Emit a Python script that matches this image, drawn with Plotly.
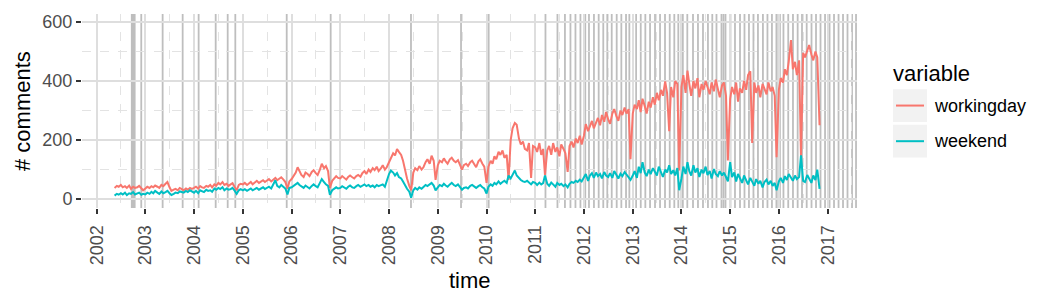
import pandas as pd
import plotly.graph_objects as go

# ---------------- data (semi-monthly) ----------------
start_date = "2002-05-15"

workingday = (
    # 2002 (from mid-May)
    [38, 45, 42, 48, 40, 44, 38, 46, 35, 42, 38, 40, 45, 36, 30]
    # 2003
    + [36, 42, 38, 44, 40, 46, 42, 38, 48, 44, 52, 58, 40, 28, 32, 35, 30, 38, 34, 30, 36, 32, 38, 35]
    # 2004
    + [38, 42, 36, 44, 40, 38, 45, 42, 48, 40, 50, 46, 55, 50, 58, 48, 52, 45, 50, 54, 40, 30, 48, 52]
    # 2005
    + [50, 55, 48, 52, 58, 50, 56, 62, 55, 60, 64, 58, 62, 68, 60, 66, 72, 64, 70, 74, 66, 58, 35, 60]
    # 2006
    + [68, 80, 90, 108, 95, 82, 75, 90, 85, 78, 92, 98, 88, 82, 100, 120, 105, 112, 95, 38, 62, 70, 78, 72]
    # 2007
    + [70, 78, 72, 66, 75, 80, 74, 70, 78, 82, 76, 88, 95, 85, 100, 92, 105, 98, 110, 95, 104, 115, 100, 108]
    # 2008
    + [125, 140, 155, 148, 170, 160, 150, 130, 95, 70, 45, 30, 90, 105, 98, 112, 100, 108, 125, 135, 120, 147, 130, 65]
    # 2009
    + [115, 130, 125, 138, 128, 120, 135, 140, 130, 125, 132, 118, 100, 115, 120, 112, 125, 130, 118, 108, 128, 135, 120, 110]
    # 2010
    + [55, 110, 130, 120, 145, 135, 160, 150, 165, 140, 150, 65, 200, 240, 258, 252, 205, 185, 195, 170, 165, 190, 72, 180]
    # 2011
    + [175, 160, 190, 150, 170, 82, 165, 180, 150, 190, 160, 175, 145, 185, 170, 155, 92, 180, 195, 175, 205, 190, 215, 185]
    # 2012
    + [215, 254, 230, 245, 265, 240, 258, 275, 250, 285, 262, 295, 270, 255, 290, 305, 280, 265, 300, 285, 310, 290, 305, 135]
    # 2013
    + [290, 320, 305, 335, 295, 340, 315, 290, 330, 310, 345, 320, 360, 335, 370, 350, 399, 360, 230, 380, 345, 400, 390, 97]
    # 2014
    + [380, 420, 360, 435, 390, 350, 400, 375, 410, 345, 390, 370, 400, 380, 355, 395, 365, 405, 370, 345, 385, 395, 350, 131]
    # 2015
    + [340, 380, 355, 395, 330, 375, 360, 400, 370, 420, 433, 190, 395, 360, 385, 345, 390, 370, 355, 395, 365, 380, 350, 142]
    # 2016 (to start of November)
    + [370, 410, 395, 440, 420, 466, 539, 440, 465, 420, 470, 142, 495, 480, 505, 522, 490, 470, 500, 480, 250]
)

weekend = (
    [12, 18, 15, 20, 16, 22, 14, 20, 18, 24, 16, 20, 22, 15, 18]
    + [16, 22, 18, 25, 20, 28, 22, 18, 26, 20, 24, 28, 20, 14, 18, 22, 20, 26, 24, 22, 28, 24, 30, 26]
    + [22, 28, 20, 30, 26, 24, 32, 28, 30, 25, 36, 32, 38, 34, 40, 30, 36, 32, 34, 38, 28, 18, 30, 34]
    + [30, 34, 28, 32, 36, 30, 34, 38, 32, 36, 40, 34, 38, 42, 36, 50, 64, 45, 40, 48, 42, 36, 16, 38]
    + [40, 45, 50, 55, 48, 42, 38, 46, 40, 36, 45, 50, 44, 40, 55, 68, 58, 50, 45, 15, 30, 35, 40, 36]
    + [38, 44, 40, 35, 42, 46, 40, 38, 44, 48, 42, 45, 50, 44, 48, 42, 46, 40, 48, 44, 46, 50, 42, 62]
    + [85, 97, 90, 80, 88, 75, 70, 60, 45, 35, 25, 5, 30, 38, 32, 40, 35, 42, 48, 44, 50, 55, 46, 30]
    + [40, 48, 44, 52, 46, 42, 50, 55, 48, 44, 50, 42, 32, 38, 40, 36, 45, 48, 42, 38, 44, 48, 40, 36]
    + [19, 42, 50, 45, 55, 50, 60, 52, 58, 62, 55, 80, 70, 85, 97, 80, 70, 65, 60, 58, 62, 55, 50, 58]
    + [55, 48, 56, 50, 54, 80, 52, 45, 56, 50, 42, 55, 48, 52, 44, 50, 40, 52, 58, 55, 62, 58, 66, 60]
    + [75, 85, 62, 80, 88, 72, 90, 78, 85, 70, 92, 80, 75, 88, 72, 95, 82, 70, 86, 78, 92, 84, 76, 65]
    + [80, 95, 72, 110, 88, 125, 90, 78, 100, 85, 105, 92, 80, 110, 88, 75, 100, 90, 115, 85, 98, 80, 105, 30]
    + [70, 110, 85, 125, 95, 80, 115, 90, 105, 75, 100, 88, 110, 82, 95, 70, 102, 85, 78, 95, 80, 90, 75, 60]
    + [125, 75, 90, 60, 85, 70, 55, 80, 65, 50, 72, 58, 45, 68, 52, 62, 40, 58, 66, 50, 62, 45, 55, 30]
    + [60, 72, 55, 78, 65, 85, 70, 62, 80, 68, 75, 148, 62, 58, 82, 70, 55, 80, 65, 100, 35]
)

# release markers (decimal years)
releases = [
    2002.72, 2002.74, 2002.76, 2002.78, 2002.915, 2003.354, 2003.765, 2004.093,
    2004.442, 2004.688, 2004.844, 2005.899, 2006.802, 2008.450, 2009.476, 2010.044,
    2011.210, 2011.456, 2011.610, 2011.723, 2011.826, 2011.928, 2012.027, 2012.103,
    2012.205, 2012.302, 2012.396, 2012.478, 2012.569, 2012.671, 2012.766, 2012.862,
    2012.93, 2013.069, 2013.164, 2013.258, 2013.355, 2013.457, 2013.560, 2013.662,
    2013.759, 2013.853, 2013.935, 2014.028, 2014.120, 2014.237, 2014.339, 2014.442,
    2014.544, 2014.633, 2014.719, 2014.822, 2014.863, 2014.904, 2015.006, 2015.099,
    2015.202, 2015.294, 2015.386, 2015.478, 2015.571, 2015.673, 2015.766, 2015.858,
    2015.950, 2015.991, 2016.022, 2016.094, 2016.192, 2016.289, 2016.385, 2016.474,
    2016.570, 2016.669, 2016.761, 2016.853, 2016.946, 2017.038, 2017.130, 2017.223,
    2017.315, 2017.407, 2017.500, 2017.582,
]

series_names = ["workingday", "weekend"]
series_colors = ["#F8766D", "#00BFC4"]
x_range_years = [2001.698, 2017.602]
y_range = [-30, 627]


def year_to_ts(v):
    y = int(v)
    a = pd.Timestamp(y, 1, 1)
    b = pd.Timestamp(y + 1, 1, 1)
    return a + (b - a) * (v - y)


n = min(len(workingday), len(weekend))
dates = pd.date_range(start_date, periods=n, freq="SMS")

# ---------------- figure ----------------
W, H = 1050, 300
L, R, T, B = 82, 193, 12, 92
PW, PH = W - L - R, H - T - B


def px_x(px):
    return (px - L) / PW


def px_y(py):
    return (H - B - py) / PH


FONT = "Liberation Sans, Arial, sans-serif"

fig = go.Figure()
for name, vals, col in zip(series_names, [workingday, weekend], series_colors):
    fig.add_trace(go.Scatter(x=dates, y=vals[:n], mode="lines", name=name,
                             line=dict(color=col, width=2), showlegend=False))

shapes = []
for r in releases:
    t = year_to_ts(r)
    shapes.append(dict(type="line", xref="x", yref="paper", x0=t, x1=t, y0=0, y1=1,
                       line=dict(color="#BEBEBE", width=1.8), layer="between"))

# manual legend (ggplot style keys)
key_tops = [88, 124]
for i, (name, col) in enumerate(zip(series_names, series_colors)):
    top = key_tops[i]
    shapes.append(dict(type="rect", xref="paper", yref="paper",
                       x0=px_x(893), x1=px_x(927), y0=px_y(top + 33), y1=px_y(top),
                       fillcolor="#F2F2F2", line=dict(width=0), layer="above"))
    shapes.append(dict(type="line", xref="paper", yref="paper",
                       x0=px_x(896), x1=px_x(924), y0=px_y(top + 16.5), y1=px_y(top + 16.5),
                       line=dict(color=col, width=2), layer="above"))

annotations = [
    dict(text="variable", xref="paper", yref="paper", x=px_x(891), y=px_y(72),
         xanchor="left", yanchor="middle", showarrow=False,
         font=dict(family=FONT, size=22, color="#000000")),
    dict(text="# comments", xref="paper", yref="paper", x=px_x(22), y=0.5,
         xanchor="center", yanchor="middle", textangle=-90, showarrow=False,
         font=dict(family=FONT, size=22, color="#000000")),
    dict(text="time", xref="paper", yref="paper", x=px_x(470), y=px_y(281),
         xanchor="center", yanchor="middle", showarrow=False,
         font=dict(family=FONT, size=22, color="#000000")),
]
for i, name in enumerate(series_names):
    annotations.append(dict(text=name, xref="paper", yref="paper", x=px_x(932),
                            y=px_y(key_tops[i] + 16.5), xanchor="left", yanchor="middle",
                            showarrow=False, font=dict(family=FONT, size=18, color="#000000")))

fig.update_layout(
    width=W, height=H,
    margin=dict(l=L, r=R, t=T, b=B, pad=0),
    paper_bgcolor="white", plot_bgcolor="white",
    shapes=shapes, annotations=annotations,
    showlegend=False,
    font=dict(family=FONT),
)

fig.update_xaxes(
    type="date",
    range=[year_to_ts(x_range_years[0]), year_to_ts(x_range_years[1])],
    tick0="2002-01-01", dtick="M12", tickformat="%Y",
    tickangle=-90, ticks="outside", ticklen=5, tickwidth=1.5, tickcolor="#333333",
    ticklabelstandoff=4,
    tickfont=dict(family=FONT, size=18, color="#4D4D4D"),
    showgrid=True, gridcolor="#DEDEDE", gridwidth=1.5,
    minor=dict(dtick="M6", tick0="2002-01-01", showgrid=True, gridcolor="#E3E3E3",
               gridwidth=1, griddash="dash"),
    showline=False, zeroline=False, fixedrange=True,
)
fig.update_yaxes(
    range=y_range, tick0=0, dtick=200,
    ticks="outside", ticklen=5, tickwidth=1.5, tickcolor="#333333",
    tickfont=dict(family=FONT, size=18, color="#4D4D4D"),
    showgrid=True, gridcolor="#DEDEDE", gridwidth=1.5,
    minor=dict(dtick=100, tick0=0, showgrid=True, gridcolor="#E3E3E3",
               gridwidth=1, griddash="dash"),
    showline=False, zeroline=False, fixedrange=True,
)

fig.write_html("out.html")
